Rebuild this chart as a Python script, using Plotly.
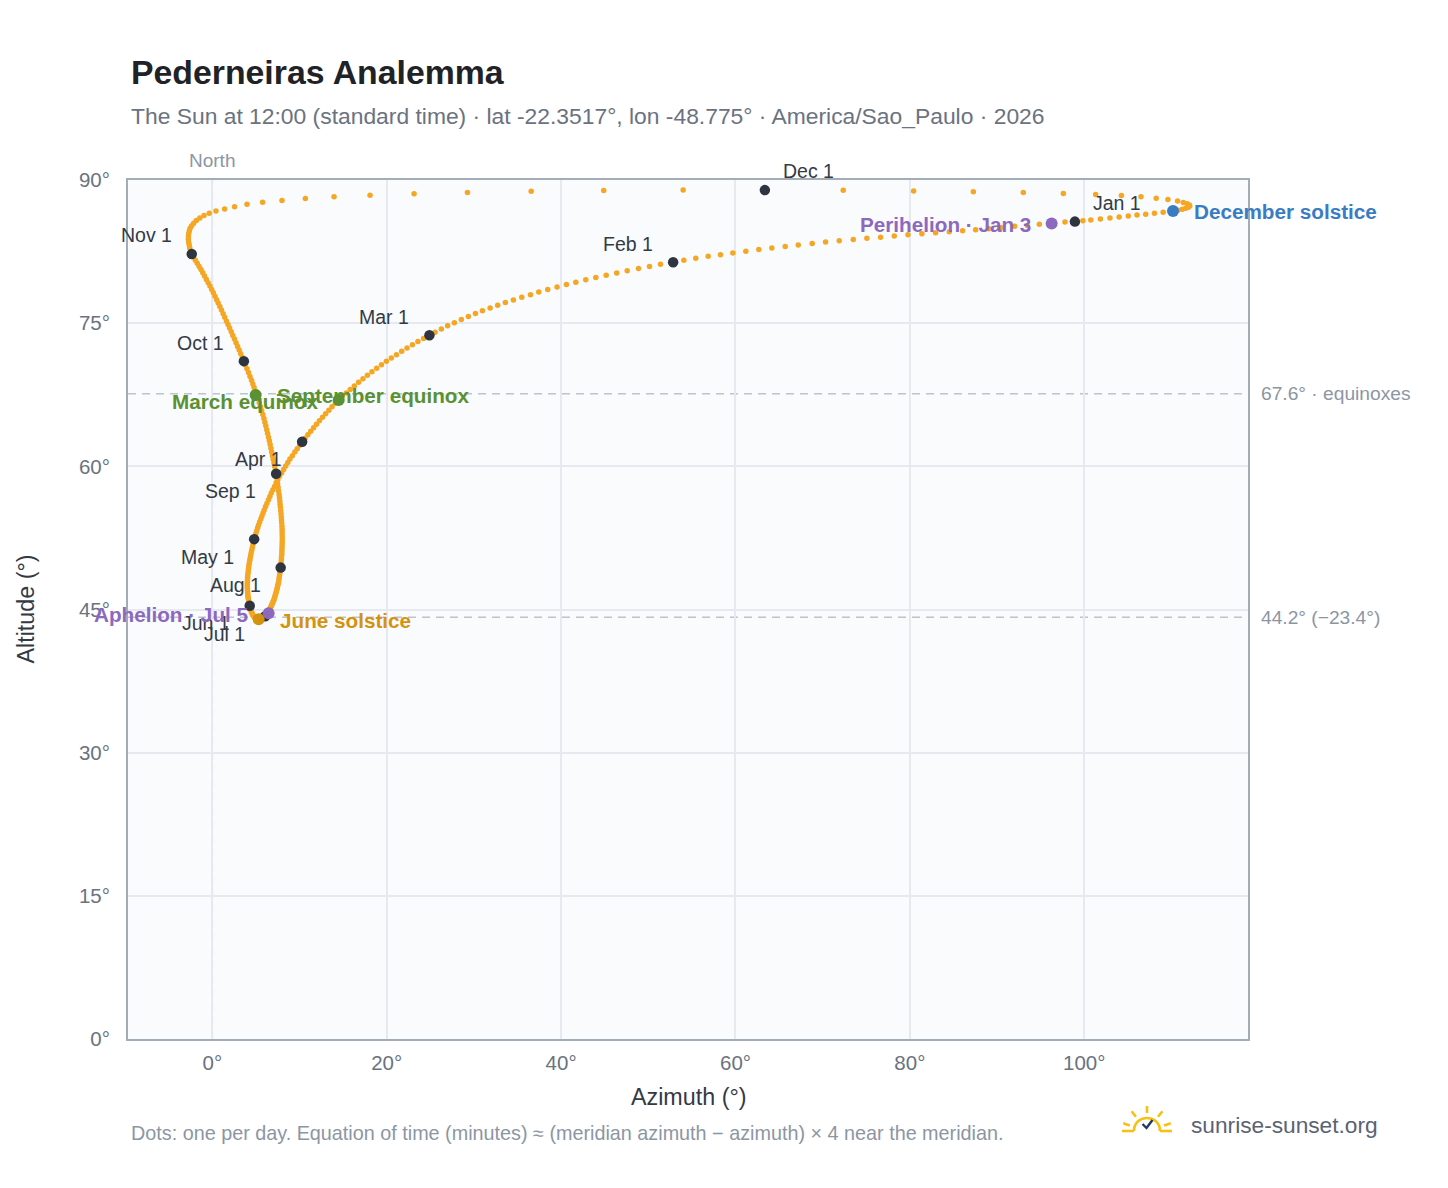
import plotly.graph_objects as go
import pandas as pd
import math

YEAR = 2026

# ---- Daily Sun position at 12:00 standard time (azimuth °, altitude °) ----
AZ_JAN = [98.93, 97.79, 96.25, 94.85, 93.47, 92.02, 90.52, 89.06, 87.54, 86.05, 84.52, 82.95, 81.38, 79.78, 78.21, 76.64,
          75.07, 73.51, 71.90, 70.33, 68.80, 67.20, 65.70, 64.17, 62.68, 61.19, 59.70, 58.28, 56.87, 55.45, 54.08]
ALT_JAN = [85.64, 85.60, 85.47, 85.36, 85.22, 85.15, 85.01, 84.90, 84.80, 84.69, 84.59, 84.48, 84.38, 84.27, 84.14, 84.01,
           83.89, 83.76, 83.63, 83.50, 83.34, 83.19, 83.03, 82.88, 82.71, 82.54, 82.36, 82.18, 82.00, 81.81, 81.60]
AZ_FEB = [52.85, 51.40, 50.14, 48.88, 47.58, 46.38, 45.17, 43.98, 42.83, 41.69, 40.61, 39.54, 38.47, 37.44, 36.49, 35.49,
          34.53, 33.61, 32.73, 31.86, 30.98, 30.18, 29.37, 28.56, 27.76, 26.99, 26.27, 25.55]
ALT_FEB = [81.38, 81.16, 80.94, 80.72, 80.49, 80.26, 80.02, 79.78, 79.54, 79.29, 79.04, 78.78, 78.52, 78.26, 77.99, 77.72,
           77.44, 77.16, 76.88, 76.59, 76.30, 76.00, 75.70, 75.38, 75.05, 74.72, 74.39, 74.06]
AZ_MAR = [24.90, 24.23, 23.58, 22.95, 22.33, 21.72, 21.12, 20.53, 19.96, 19.40, 18.85, 18.31, 17.79, 17.28, 16.78, 16.29,
          15.82, 15.36, 14.91, 14.47, 14.10, 13.73, 13.37, 13.00, 12.64, 12.28, 11.95, 11.62, 11.29, 10.96, 10.63]
ALT_MAR = [73.73, 73.40, 73.07, 72.73, 72.39, 72.05, 71.70, 71.35, 71.00, 70.64, 70.28, 69.92, 69.55, 69.18, 68.80, 68.42,
           68.04, 67.69, 67.33, 66.97, 66.60, 66.24, 65.87, 65.51, 65.14, 64.78, 64.41, 64.05, 63.68, 63.31, 62.95]
AZ_APR = [10.30, 10.02, 9.74, 9.46, 9.18, 8.90, 8.66, 8.42, 8.18, 7.94, 7.70, 7.51, 7.32, 7.14, 6.95, 6.76,
          6.60, 6.44, 6.27, 6.11, 5.95, 5.82, 5.69, 5.56, 5.43, 5.30, 5.20, 5.10, 5.00, 4.90]
ALT_APR = [62.58, 62.22, 61.85, 61.49, 61.12, 60.76, 60.40, 60.04, 59.67, 59.31, 58.95, 58.60, 58.25, 57.90, 57.55, 57.20,
           56.85, 56.49, 56.14, 55.78, 55.43, 55.12, 54.80, 54.49, 54.17, 53.86, 53.56, 53.26, 52.97, 52.67]
AZ_MAY = [4.80, 4.73, 4.66, 4.59, 4.52, 4.45, 4.40, 4.35, 4.30, 4.25, 4.20, 4.17, 4.14, 4.11, 4.08, 4.05,
          4.04, 4.03, 4.02, 4.01, 4.01, 4.02, 4.03, 4.05, 4.06, 4.08, 4.11, 4.15, 4.18, 4.22, 4.25]
ALT_MAY = [52.37, 52.08, 51.79, 51.50, 51.21, 50.92, 50.67, 50.41, 50.16, 49.90, 49.65, 49.41, 49.18, 48.94, 48.71, 48.47,
           48.25, 48.04, 47.82, 47.61, 47.39, 47.19, 46.99, 46.80, 46.60, 46.40, 46.22, 46.05, 45.88, 45.72, 45.56]
AZ_JUN = [4.29, 4.33, 4.37, 4.40, 4.44, 4.48, 4.53, 4.58, 4.62, 4.67, 4.72, 4.78, 4.84, 4.89, 4.95, 5.01,
          5.07, 5.14, 5.20, 5.27, 5.33, 5.40, 5.48, 5.55, 5.63, 5.70, 5.77, 5.84, 5.92, 5.99]
ALT_JUN = [45.40, 45.26, 45.13, 45.00, 44.87, 44.75, 44.65, 44.57, 44.48, 44.40, 44.33, 44.27, 44.21, 44.16, 44.12, 44.08,
           44.05, 44.03, 44.01, 44.00, 43.99, 43.99, 44.00, 44.01, 44.02, 44.04, 44.08, 44.13, 44.18, 44.24]
AZ_JUL = [6.06, 6.13, 6.20, 6.28, 6.35, 6.42, 6.49, 6.56, 6.62, 6.69, 6.76, 6.82, 6.89, 6.95, 7.02, 7.08,
          7.13, 7.19, 7.24, 7.30, 7.35, 7.40, 7.45, 7.50, 7.55, 7.60, 7.64, 7.68, 7.72, 7.76, 7.80]
ALT_JUL = [44.30, 44.38, 44.47, 44.56, 44.64, 44.73, 44.86, 44.99, 45.11, 45.24, 45.37, 45.51, 45.64, 45.78, 45.91, 46.05,
           46.22, 46.39, 46.55, 46.72, 46.89, 47.09, 47.29, 47.48, 47.68, 47.88, 48.13, 48.38, 48.63, 48.89, 49.14]
AZ_AUG = [7.84, 7.87, 7.89, 7.92, 7.94, 7.97, 7.98, 7.99, 8.00, 8.01, 8.02, 8.02, 8.01, 8.01, 8.00, 7.99,
          7.96, 7.93, 7.91, 7.88, 7.85, 7.81, 7.77, 7.74, 7.70, 7.66, 7.60, 7.55, 7.49, 7.43, 7.38]
ALT_AUG = [49.39, 49.67, 49.95, 50.24, 50.52, 50.80, 51.08, 51.36, 51.64, 51.92, 52.20, 52.50, 52.81, 53.11, 53.42, 53.72,
           54.05, 54.38, 54.70, 55.03, 55.36, 55.70, 56.04, 56.38, 56.72, 57.06, 57.42, 57.78, 58.14, 58.50, 58.86]
AZ_SEP = [7.32, 7.24, 7.15, 7.07, 6.98, 6.90, 6.81, 6.72, 6.63, 6.54, 6.45, 6.34, 6.24, 6.13, 6.03, 5.92,
          5.79, 5.65, 5.52, 5.38, 5.25, 5.08, 4.94, 4.79, 4.65, 4.50, 4.32, 4.15, 3.97, 3.80]
ALT_SEP = [59.22, 59.60, 59.98, 60.35, 60.73, 61.11, 61.50, 61.89, 62.28, 62.67, 63.06, 63.45, 63.84, 64.24, 64.63, 65.02,
           65.43, 65.84, 66.25, 66.66, 67.07, 67.47, 67.86, 68.25, 68.63, 69.02, 69.42, 69.82, 70.22, 70.62]
AZ_OCT = [3.62, 3.44, 3.26, 3.08, 2.90, 2.72, 2.54, 2.35, 2.17, 1.98, 1.80, 1.61, 1.42, 1.24, 1.05, 0.86,
          0.67, 0.49, 0.30, 0.12, -0.07, -0.27, -0.48, -0.68, -0.89, -1.09, -1.30, -1.51, -1.73, -1.94, -2.15]
ALT_OCT = [71.02, 71.41, 71.79, 72.18, 72.56, 72.95, 73.33, 73.72, 74.10, 74.49, 74.87, 75.24, 75.62, 75.99, 76.37, 76.74,
           77.10, 77.46, 77.82, 78.18, 78.54, 78.89, 79.24, 79.58, 79.93, 80.28, 80.61, 80.94, 81.27, 81.60, 81.92]
AZ_NOV = [-2.36, -2.48, -2.59, -2.65, -2.71, -2.75, -2.74, -2.71, -2.64, -2.54, -2.37, -2.14, -1.83, -1.43, -0.95, -0.35,
          0.42, 1.41, 2.55, 3.98, 5.77, 7.99, 10.67, 13.96, 18.09, 23.14, 29.26, 36.57, 44.89, 54.00]
ALT_NOV = [82.25, 82.57, 82.88, 83.19, 83.49, 83.79, 84.08, 84.37, 84.66, 84.94, 85.21, 85.48, 85.75, 86.01, 86.27, 86.52,
           86.74, 86.97, 87.21, 87.45, 87.66, 87.86, 88.05, 88.24, 88.40, 88.56, 88.70, 88.81, 88.89, 88.94]
AZ_DEC = [63.37, 72.36, 80.43, 87.28, 93.01, 97.60, 101.31, 104.26, 106.51, 108.25, 109.60, 110.70, 111.35, 111.80, 112.05,
          112.10, 111.95, 111.65, 111.25, 110.75, 110.15, 109.05, 108.05, 107.05, 106.05, 105.05, 104.00, 102.95, 101.85,
          100.75, 99.85]
ALT_DEC = [88.94, 88.92, 88.86, 88.78, 88.68, 88.59, 88.49, 88.37, 88.24, 88.10, 87.95, 87.80, 87.65, 87.52, 87.39,
           87.27, 87.15, 87.04, 86.93, 86.83, 86.73, 86.62, 86.52, 86.42, 86.32, 86.22, 86.12, 86.02, 85.92,
           85.82, 85.73]

MONTH_ABBR = ["Jan", "Feb", "Mar", "Apr", "May", "Jun", "Jul", "Aug", "Sep", "Oct", "Nov", "Dec"]
MONTH_LABEL_POS = ["tr", "tl", "tl", "bl", "bl", "bl", "bl", "bl", "bl", "tl", "tl", "tr"]

# ---- Special events ----
EVENT_NAMES = ["March equinox", "June solstice", "September equinox", "December solstice",
               "Perihelion · Jan 3", "Aphelion · Jul 5"]
EVENT_AZ = [14.49, 5.31, 4.97, 110.18, 96.26, 6.46]
EVENT_ALT = [66.95, 43.97, 67.48, 86.76, 85.45, 44.60]
EVENT_COLORS = ["#5A9132", "#D4930E", "#5A9132", "#3A7CC4", "#8D69BD", "#8D69BD"]
EVENT_SIDE = ["left", "right", "right", "right", "left", "left"]

REF_LINES = [67.6, 44.2]
REF_LABELS = ["67.6° · equinoxes", "44.2° (−23.4°)"]

X_TICKS = [0, 20, 40, 60, 80, 100]
Y_TICKS = [0, 15, 30, 45, 60, 75, 90]

AZ = AZ_JAN + AZ_FEB + AZ_MAR + AZ_APR + AZ_MAY + AZ_JUN + AZ_JUL + AZ_AUG + AZ_SEP + AZ_OCT + AZ_NOV + AZ_DEC
ALT = (ALT_JAN + ALT_FEB + ALT_MAR + ALT_APR + ALT_MAY + ALT_JUN + ALT_JUL + ALT_AUG + ALT_SEP + ALT_OCT
       + ALT_NOV + ALT_DEC)
DATES = pd.date_range(f"{YEAR}-01-01", f"{YEAR}-12-31", freq="D")
assert len(AZ) == len(ALT) == len(DATES)

# ---- Layout geometry ----
W, H = 1448, 1188
L, R, T, B = 128, 200, 180, 149
PW, PH = W - L - R, H - T - B


def px(x):
    return (x - L) / PW


def py(y):
    return (H - B - y) / PH


FONT = "Liberation Sans, Arial, Helvetica, sans-serif"
GREY = "#8C96A3"

fig = go.Figure()

fig.add_trace(go.Scatter(
    x=AZ, y=ALT, mode="markers",
    marker=dict(size=5.5, color="#F5A623", line=dict(width=0)),
    hoverinfo="skip", showlegend=False))

month_idx = [i for i, d in enumerate(DATES) if d.day == 1]
fig.add_trace(go.Scatter(
    x=[AZ[i] for i in month_idx], y=[ALT[i] for i in month_idx], mode="markers",
    marker=dict(size=10.5, color="#2E3440", line=dict(width=0)),
    hoverinfo="skip", showlegend=False))

fig.add_trace(go.Scatter(
    x=EVENT_AZ, y=EVENT_ALT, mode="markers",
    marker=dict(size=12, color=EVENT_COLORS, line=dict(width=0)),
    hoverinfo="skip", showlegend=False))

annotations = []

SHIFT = {"tl": ("right", -18, 18.5), "tr": ("left", 16, 19), "bl": ("right", -18, -17.5)}
for m, i in enumerate(month_idx):
    anchor, dx, dy = SHIFT[MONTH_LABEL_POS[m]]
    annotations.append(dict(
        x=AZ[i], y=ALT[i], xref="x", yref="y", text=f"{MONTH_ABBR[m]} 1", showarrow=False,
        xanchor=anchor, yanchor="middle", xshift=dx, yshift=dy,
        font=dict(size=19.5, color="#333A45", family=FONT)))

for name, ex, ey, col, side in zip(EVENT_NAMES, EVENT_AZ, EVENT_ALT, EVENT_COLORS, EVENT_SIDE):
    annotations.append(dict(
        x=ex, y=ey, xref="x", yref="y", text=f"<b>{name}</b>", showarrow=False,
        xanchor="right" if side == "left" else "left", yanchor="middle",
        xshift=-19 if side == "left" else 19, yshift=-1,
        font=dict(size=20.7, color=col, family=FONT)))

for v, lab in zip(REF_LINES, REF_LABELS):
    annotations.append(dict(
        x=px(1259), y=v, xref="paper", yref="y", text=lab, showarrow=False,
        xanchor="left", yanchor="middle", font=dict(size=19.2, color=GREY, family=FONT)))

annotations += [
    dict(x=0, y=py(161), xref="x", yref="paper", text="North", showarrow=False,
         xanchor="center", yanchor="middle", font=dict(size=19, color=GREY, family=FONT)),
    dict(x=px(129), y=py(72), xref="paper", yref="paper", text="<b>Pederneiras Analemma</b>", showarrow=False,
         xanchor="left", yanchor="middle", font=dict(size=33.8, color="#1F2328", family=FONT)),
    dict(x=px(129), y=py(116), xref="paper", yref="paper",
         text="The Sun at 12:00 (standard time) · lat -22.3517°, lon -48.775° · America/Sao_Paulo · 2026",
         showarrow=False, xanchor="left", yanchor="middle", font=dict(size=22.85, color="#6B7280", family=FONT)),
    dict(x=0.5, y=py(1097), xref="paper", yref="paper", text="Azimuth (°)", showarrow=False,
         xanchor="center", yanchor="middle", font=dict(size=23.3, color="#333A45", family=FONT)),
    dict(x=px(25), y=0.5, xref="paper", yref="paper", text="Altitude (°)", showarrow=False, textangle=-90,
         xanchor="center", yanchor="middle", font=dict(size=23.3, color="#333A45", family=FONT)),
    dict(x=px(129), y=py(1133), xref="paper", yref="paper",
         text="Dots: one per day. Equation of time (minutes) ≈ (meridian azimuth − azimuth) × 4 near the meridian.",
         showarrow=False, xanchor="left", yanchor="middle", font=dict(size=19.8, color=GREY, family=FONT)),
    dict(x=px(1189), y=py(1125), xref="paper", yref="paper", text="sunrise-sunset.org", showarrow=False,
         xanchor="left", yanchor="middle", font=dict(size=22.7, color="#5A6372", family=FONT)),
]

shapes = [
    dict(type="line", xref="x", yref="paper", x0=0, x1=0, y0=0, y1=1, layer="between",
         line=dict(color="#B4BDC8", width=1.5, dash="8px,6px")),
]
for v in REF_LINES:
    shapes.append(dict(type="line", xref="paper", yref="y", x0=0, x1=1, y0=v, y1=v, layer="between",
                       line=dict(color="#BCC4CE", width=1.5, dash="8px,6px")))

# logo: rising sun with check mark
SUN = "#F5C211"
cx, cy, r = 1147, 1131, 13


def path(points, cmds):
    return " ".join(f"{c} {px(x):.5f},{py(y):.5f}" for c, (x, y) in zip(cmds, points))


dome = (f"M {px(cx - r):.5f},{py(cy):.5f} C {px(cx - r):.5f},{py(cy - 1.333 * r):.5f} "
        f"{px(cx + r):.5f},{py(cy - 1.333 * r):.5f} {px(cx + r):.5f},{py(cy):.5f}")
shapes.append(dict(type="path", xref="paper", yref="paper", path=dome, line=dict(color=SUN, width=2.6)))
for x0, x1 in [(1122, cx - r), (cx + r, 1172)]:
    shapes.append(dict(type="line", xref="paper", yref="paper", x0=px(x0), x1=px(x1), y0=py(cy), y1=py(cy),
                       line=dict(color=SUN, width=2.6)))
for ang in [90, 52, 128, 18, 162]:
    a = math.radians(ang)
    r0, r1 = 18, 25
    shapes.append(dict(type="line", xref="paper", yref="paper",
                       x0=px(cx + r0 * math.cos(a)), y0=py(cy - r0 * math.sin(a)),
                       x1=px(cx + r1 * math.cos(a)), y1=py(cy - r1 * math.sin(a)),
                       line=dict(color=SUN, width=2.6)))
shapes.append(dict(type="path", xref="paper", yref="paper",
                   path=path([(1142.5, 1124), (1146.5, 1128), (1152.5, 1120)], ["M", "L", "L"]),
                   line=dict(color="#1F3A5F", width=2.4)))

axis_common = dict(
    showgrid=True, gridcolor="#E6EAF0", gridwidth=1.5, zeroline=False,
    showline=True, mirror=True, linecolor="#A3ADB8", linewidth=2,
    tickcolor="rgba(0,0,0,0)",
    tickfont=dict(size=20.5, color="#6B7280", family=FONT),
)

fig.update_layout(
    width=W, height=H,
    margin=dict(l=L, r=R, t=T, b=B, pad=0, autoexpand=False),
    paper_bgcolor="white", plot_bgcolor="#F9FBFD",
    showlegend=False, hovermode=False,
    font=dict(family=FONT),
    xaxis=dict(range=[-9.67, 118.78], tickvals=X_TICKS, ticktext=[f"{v}°" for v in X_TICKS],
               ticks="outside", ticklen=4, **axis_common),
    yaxis=dict(range=[0, 90], tickvals=Y_TICKS, ticktext=[f"{v}°" for v in Y_TICKS],
               ticks="outside", ticklen=12, **axis_common),
    annotations=annotations,
    shapes=shapes,
)

fig.write_html("out.html", config={"displayModeBar": False},
               post_script="document.body.style.margin='0';document.body.style.overflow='hidden';")
